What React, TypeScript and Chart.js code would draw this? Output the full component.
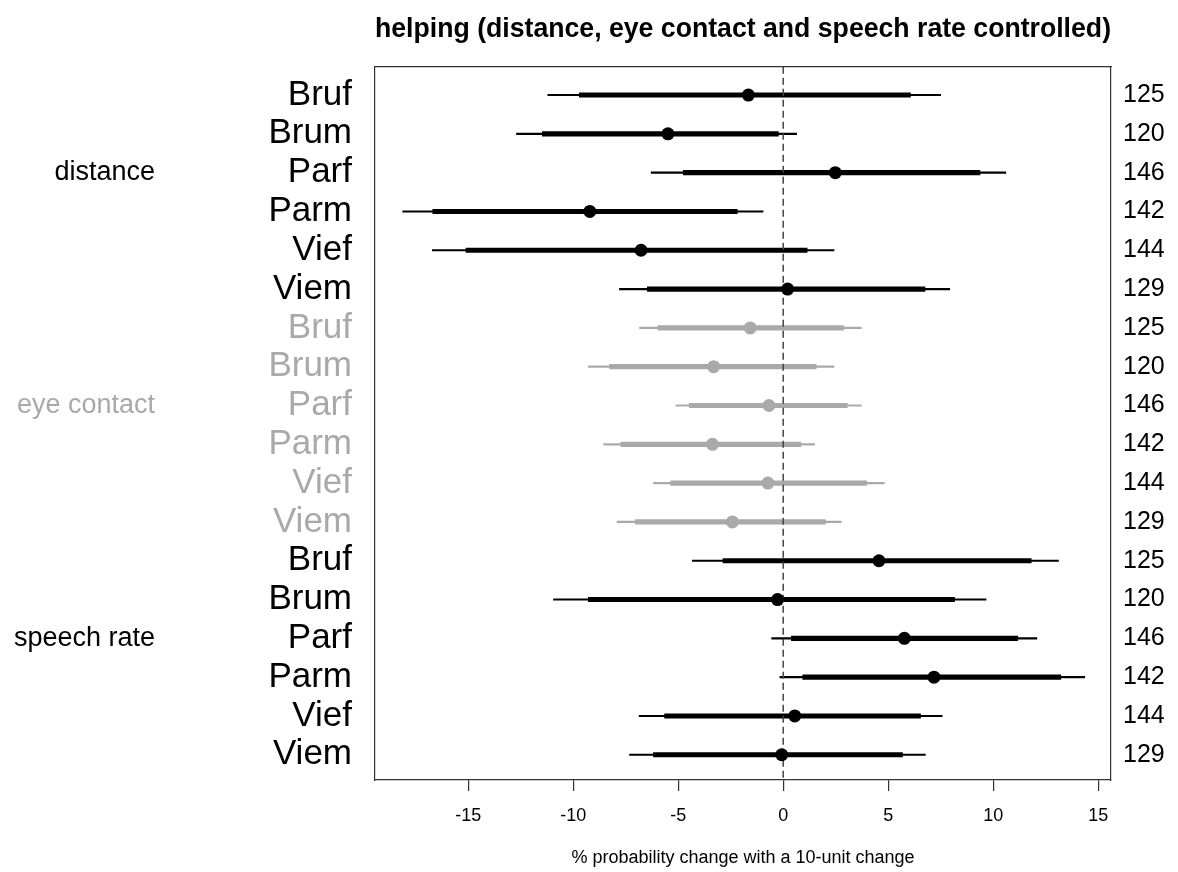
import React, { useEffect, useRef } from 'react';
import { Chart, registerables } from 'chart.js';

Chart.register(...registerables);

const FONT = '"Liberation Sans", Arial, Helvetica, sans-serif';

const chartTitle = 'helping (distance, eye contact and speech rate controlled)';
const xAxisTitle = '% probability change with a 10-unit change';

const groupLabels = ['distance', 'eye contact', 'speech rate'];
const groupLabelRows = [3, 9, 15];
const groupColors = ['#000000', '#A9A9A9', '#000000'];
const speakerLabels = ['Bruf', 'Brum', 'Parf', 'Parm', 'Vief', 'Viem'];
const nLabels = [125, 120, 146, 142, 144, 129];

// distance
const distEst = [-1.66, -5.49, 2.48, -9.21, -6.77, 0.21];
const distInLo = [-9.71, -11.47, -4.76, -16.69, -15.11, -6.47];
const distInHi = [6.06, -0.23, 9.37, -2.19, 1.14, 6.75];
const distOutLo = [-11.21, -12.7, -6.29, -18.12, -16.71, -7.8];
const distOutHi = [7.5, 0.64, 10.6, -0.96, 2.42, 7.93];

// eye contact
const eyeEst = [-1.57, -3.31, -0.68, -3.37, -0.73, -2.42];
const eyeInLo = [-5.97, -8.27, -4.47, -7.73, -5.36, -7.04];
const eyeInHi = [2.87, 1.57, 3.05, 0.84, 3.97, 2.01];
const eyeOutLo = [-6.84, -9.28, -5.11, -8.55, -6.18, -7.91];
const eyeOutHi = [3.72, 2.42, 3.72, 1.5, 4.81, 2.76];

// speech rate
const speechEst = [4.56, -0.27, 5.77, 7.18, 0.55, -0.07];
const speechInLo = [-2.87, -9.28, 0.39, 0.93, -5.65, -6.18];
const speechInHi = [11.81, 8.16, 11.17, 13.22, 6.54, 5.68];
const speechOutLo = [-4.33, -10.94, -0.55, -0.16, -6.86, -7.32];
const speechOutHi = [13.11, 9.66, 12.08, 14.36, 7.57, 6.77];

const xTicks = [-15, -10, -5, 0, 5, 10, 15];
const X_MIN = -19.44;
const X_MAX = 15.61;
const Y_MIN = 0.27;
const Y_MAX = 18.65;

export default function App() {
  const ref = useRef<HTMLCanvasElement>(null);

  useEffect(() => {
    const est = [...distEst, ...eyeEst, ...speechEst];
    const inLo = [...distInLo, ...eyeInLo, ...speechInLo];
    const inHi = [...distInHi, ...eyeInHi, ...speechInHi];
    const outLo = [...distOutLo, ...eyeOutLo, ...speechOutLo];
    const outHi = [...distOutHi, ...eyeOutHi, ...speechOutHi];
    const rowNames: string[] = [];
    const rowNs: number[] = [];
    const rowColors: string[] = [];
    groupLabels.forEach((_, g) => {
      speakerLabels.forEach((s, i) => {
        rowNames.push(s);
        rowNs.push(nLabels[i]);
        rowColors.push(groupColors[g]);
      });
    });
    const rows = rowNames.map((_, i) => i + 1);
    const colorAt = (v: number) => rowColors[Math.round(v) - 1] || '#000';

    const chart = new Chart(ref.current!, {
      type: 'bar',
      data: {
        datasets: [
          {
            type: 'scatter',
            label: 'estimate',
            data: rows.map((r, i) => ({ x: est[i], y: r })),
            pointRadius: 6.5,
            pointHoverRadius: 6.5,
            backgroundColor: rowColors,
            borderWidth: 0,
            order: 0,
            xAxisID: 'x',
            yAxisID: 'y',
          } as any,
          {
            type: 'scatter',
            label: 'zero',
            data: [
              { x: 0, y: Y_MIN },
              { x: 0, y: Y_MAX },
            ],
            showLine: true,
            borderColor: '#444444',
            borderWidth: 1.5,
            borderDash: [7, 4],
            pointRadius: 0,
            order: 1,
            xAxisID: 'x',
            yAxisID: 'y',
          } as any,
          {
            type: 'bar',
            label: 'inner',
            indexAxis: 'y',
            data: rows.map((r, i) => ({ x: [inLo[i], inHi[i]], y: r })),
            backgroundColor: rowColors,
            barThickness: 4.5,
            grouped: false,
            borderWidth: 0,
            order: 2,
            xAxisID: 'x',
            yAxisID: 'y',
          } as any,
          {
            type: 'bar',
            label: 'outer',
            indexAxis: 'y',
            data: rows.map((r, i) => ({ x: [outLo[i], outHi[i]], y: r })),
            backgroundColor: rowColors,
            barThickness: 1.5,
            grouped: false,
            borderWidth: 0,
            order: 3,
            xAxisID: 'x',
            yAxisID: 'y',
          } as any,
        ],
      },
      options: {
        indexAxis: 'y',
        responsive: false,
        animation: false,
        events: [],
        layout: { padding: 0 },
        plugins: {
          legend: { display: false },
          tooltip: { enabled: false },
          title: {
            display: true,
            text: chartTitle,
            fullSize: false,
            color: '#000',
            font: { family: FONT, size: 28, weight: 'bold' },
            padding: { top: 12, bottom: 21.1 },
          },
        },
        scales: {
          x: {
            type: 'linear',
            position: 'bottom',
            offset: false,
            min: X_MIN,
            max: X_MAX,
            afterBuildTicks: (s: any) => {
              s.ticks = xTicks.map((v) => ({ value: v }));
            },
            ticks: {
              autoSkip: false,
              maxRotation: 0,
              padding: 14,
              color: '#000',
              font: { family: FONT, size: 18 },
              callback: (v: any) => String(v),
            },
            grid: {
              display: true,
              offset: false,
              drawOnChartArea: false,
              drawTicks: true,
              tickLength: 11,
              color: '#333',
              lineWidth: 1.2,
            },
            border: { display: true, color: '#333', width: 1.2 },
            title: {
              display: true,
              text: xAxisTitle,
              color: '#000',
              font: { family: FONT, size: 18 },
              padding: { top: 0, bottom: 3 },
            },
            afterFit: (s: any) => {
              s.height = 92;
            },
          },
          xTop: {
            type: 'linear',
            position: 'top',
            offset: false,
            min: X_MIN,
            max: X_MAX,
            ticks: { display: false },
            grid: { display: false, drawTicks: false },
            border: { display: true, color: '#333', width: 1.2 },
            afterFit: (s: any) => {
              s.height = 0;
            },
          },
          y: {
            type: 'linear',
            position: 'left',
            reverse: true,
            offset: false,
            min: Y_MIN,
            max: Y_MAX,
            weight: 0,
            afterBuildTicks: (s: any) => {
              s.ticks = rows.map((v) => ({ value: v }));
            },
            ticks: {
              autoSkip: false,
              padding: 23,
              font: { family: FONT, size: 35 },
              color: (ctx: any) => colorAt(ctx.tick.value),
              callback: (v: any) => rowNames[Math.round(v) - 1] ?? '',
            },
            grid: { display: false, offset: false, drawTicks: false },
            border: { display: true, color: '#333', width: 1.2 },
            afterFit: (s: any) => {
              s.width = 215;
            },
          },
          yGroup: {
            type: 'linear',
            position: 'left',
            reverse: true,
            offset: false,
            min: Y_MIN,
            max: Y_MAX,
            weight: 1,
            afterBuildTicks: (s: any) => {
              s.ticks = groupLabelRows.map((v) => ({ value: v }));
            },
            ticks: {
              autoSkip: false,
              padding: 5,
              font: { family: FONT, size: 27 },
              color: (ctx: any) => groupColors[groupLabelRows.indexOf(ctx.tick.value)] || '#000',
              callback: (v: any) => groupLabels[groupLabelRows.indexOf(v)] ?? '',
            },
            grid: { display: false, offset: false, drawTicks: false },
            border: { display: false },
            afterFit: (s: any) => {
              s.width = 160;
            },
          },
          yN: {
            type: 'linear',
            position: 'right',
            reverse: true,
            offset: false,
            min: Y_MIN,
            max: Y_MAX,
            afterBuildTicks: (s: any) => {
              s.ticks = rows.map((v) => ({ value: v }));
            },
            ticks: {
              autoSkip: false,
              padding: 12,
              font: { family: FONT, size: 25 },
              color: '#000',
              callback: (v: any) => String(rowNs[Math.round(v) - 1] ?? ''),
            },
            grid: { display: false, offset: false, drawTicks: false },
            border: { display: true, color: '#333', width: 1.2 },
            afterFit: (s: any) => {
              s.width = 67;
            },
          },
        },
      } as any,
    });
    return () => chart.destroy();
  }, []);

  return (
    <div style={{ position: 'absolute', left: 0, top: 0, width: 1178, height: 872, background: '#fff' }}>
      <canvas ref={ref} width={1178} height={872} style={{ display: 'block' }} />
    </div>
  );
}
